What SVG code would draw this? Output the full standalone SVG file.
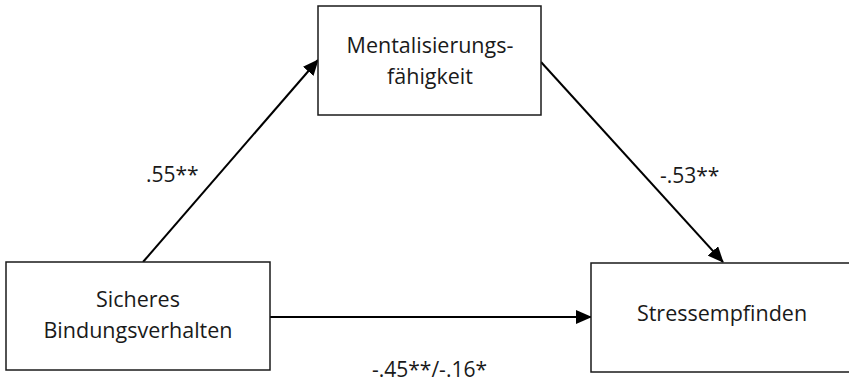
<svg xmlns="http://www.w3.org/2000/svg" width="849" height="382" viewBox="0 0 849 382">
<style>
.box{fill:#fff;stroke:#1a1a1a;stroke-width:1.5}
.t{font-family:"Open Sans","Noto Sans",sans-serif;font-size:21.5px;fill:#1a1a1a;text-anchor:middle}
.lbl{font-family:"Open Sans","Noto Sans",sans-serif;font-size:21px;fill:#1a1a1a}
.edge{stroke:#000;stroke-width:2;fill:none;marker-end:url(#ah)}
</style>
<defs>
<marker id="ah" markerUnits="userSpaceOnUse" markerWidth="16" markerHeight="14" refX="15" refY="7" orient="auto">
<path d="M0,0 L16,7 L0,14 Z" fill="#000"/>
</marker>
</defs>
<rect width="849" height="382" fill="#fff"/>
<g id="connectors">
<line class="edge" x1="143" y1="262" x2="318" y2="60"/>
<line class="edge" x1="541" y1="62" x2="723" y2="262"/>
<line class="edge" x1="270" y1="317" x2="591" y2="317"/>
</g>
<g id="node-sicheres">
<rect class="box" x="6" y="262" width="264" height="108"/>
<text class="t" x="138" y="307">Sicheres</text>
<text class="t" x="138" y="338">Bindungsverhalten</text>
</g>
<g id="node-mentalisierung">
<rect class="box" x="318" y="6" width="223" height="109"/>
<text class="t" x="430" y="53">Mentalisierungs-</text>
<text class="t" x="430" y="84">fähigkeit</text>
</g>
<g id="node-stress">
<rect class="box" x="591" y="263" width="270" height="109"/>
<text class="t" x="722" y="321">Stressempfinden</text>
</g>
<g id="labels">
<text class="lbl" x="146" y="182">.55**</text>
<text class="lbl" x="660" y="183">-.53**</text>
<text class="lbl" x="372" y="377">-.45**/-.16*</text>
</g>
</svg>
